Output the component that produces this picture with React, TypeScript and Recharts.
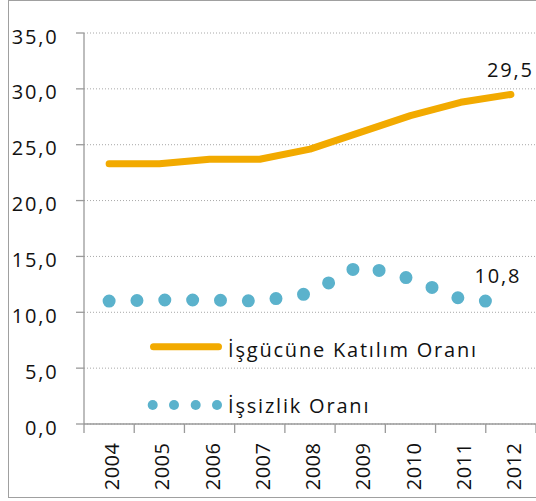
import React from 'react';
import { LineChart, Line, XAxis, YAxis, CartesianGrid, Legend, LabelList } from 'recharts';

const YEARS = ['2004', '2005', '2006', '2007', '2008', '2009', '2010', '2011', '2012'];
const PARTICIPATION = [23.3, 23.3, 23.7, 23.7, 24.6, 26.1, 27.6, 28.8, 29.5];
const UNEMPLOYMENT = [11.0, 11.1, 11.1, 11.0, 11.7, 14.2, 13.0, 11.2, 10.8];
const Y_TICKS = [0, 5, 10, 15, 20, 25, 30, 35];
const SERIES_NAMES = ['İşgücüne Katılım Oranı', 'İşsizlik Oranı'];

const data = YEARS.map((year, i) => ({
  year,
  katilim: PARTICIPATION[i],
  issizlik: UNEMPLOYMENT[i],
}));

const W = 538;
const H = 501;
const Y_AXIS_W = 84;
const X_AXIS_H = 77;
const MARGIN_TOP = 33;
const MARGIN_RIGHT = 2;
const PLOT_LEFT = Y_AXIS_W;
const PLOT_RIGHT = W - MARGIN_RIGHT;
const PLOT_BOTTOM = H - X_AXIS_H;
const BAND = (PLOT_RIGHT - PLOT_LEFT) / YEARS.length;

const ORANGE = '#F2AA00';
const BLUE = '#5BB2CC';
const AXIS = '#9a9a9a';
const TEXT = '#111';
const FONT = "'Open Sans', sans-serif";
const FS = 20;
const LS = 1.8;

const fmt = (v: number) => v.toFixed(1).replace('.', ',');

const XTick = (props: any) => {
  const { x, payload } = props;
  const idx = YEARS.indexOf(payload.value);
  return (
    <g>
      <line x1={x - BAND / 2} x2={x - BAND / 2} y1={PLOT_BOTTOM} y2={PLOT_BOTTOM + 9} stroke={AXIS} strokeWidth={1.3} />
      {idx === YEARS.length - 1 && (
        <line x1={x + BAND / 2} x2={x + BAND / 2} y1={PLOT_BOTTOM} y2={PLOT_BOTTOM + 9} stroke={AXIS} strokeWidth={1.3} />
      )}
      <text
        transform={`translate(${x + 3},${PLOT_BOTTOM + 18.5}) rotate(-90)`}
        textAnchor="end"
        dy="0.355em"
        fontFamily={FONT}
        fontSize={FS}
        letterSpacing={0.5}
        fill={TEXT}
      >
        {payload.value}
      </text>
    </g>
  );
};

const YTick = (props: any) => {
  const { y, payload } = props;
  return (
    <text x={PLOT_LEFT - 25.5} y={y + 3.5} dy="0.355em" textAnchor="end" fontFamily={FONT} fontSize={FS} letterSpacing={LS} fill={TEXT}>
      {fmt(payload.value)}
    </text>
  );
};

const endLabel = (dx: number, dy: number) => (props: any) => {
  const { x, y, value, index } = props;
  if (index !== YEARS.length - 1) return null;
  return (
    <text x={x + dx + LS / 2} y={y + dy + 7} textAnchor="middle" fontFamily={FONT} fontSize={FS} letterSpacing={LS} fill={TEXT}>
      {fmt(value)}
    </text>
  );
};

const renderLegend = (props: any) => {
  const payload = props.payload || [];
  return (
    <svg width={W} height={H} style={{ position: 'absolute', left: 0, top: 0 }}>
      {payload.map((entry: any, i: number) => {
        const dotted = entry.dataKey === 'issizlik';
        const cy = i === 0 ? 346.7 : 405;
        const baseline = i === 0 ? 357 : 413;
        return (
          <g key={String(entry.dataKey)}>
            {dotted ? (
              [152.7, 174, 195.7, 217].map((cx) => <circle key={cx} cx={cx} cy={cy} r={5} fill={entry.color} />)
            ) : (
              <line x1={153.5} x2={218.5} y1={cy} y2={cy} stroke={entry.color} strokeWidth={7} strokeLinecap="round" />
            )}
            <text x={228} y={baseline} fontFamily={FONT} fontSize={FS} letterSpacing={LS} fill={TEXT}>
              {entry.value}
            </text>
          </g>
        );
      })}
    </svg>
  );
};

export default function App() {
  return (
    <div style={{ position: 'fixed', left: 0, top: 0, width: 536, height: 501, overflow: 'hidden', background: '#fff' }}>
      <div
        style={{
          position: 'absolute',
          left: 8,
          top: 0,
          width: 600,
          height: 496,
          borderLeft: '1px solid #a0a0a0',
          borderTop: '1px solid #a0a0a0',
          borderBottom: '1px solid #a0a0a0',
        }}
      />
      <div style={{ position: 'absolute', left: 0, top: 0 }}>
        <LineChart width={W} height={H} data={data} margin={{ top: MARGIN_TOP, right: MARGIN_RIGHT, bottom: 0, left: 0 }}>
          <CartesianGrid vertical={false} strokeDasharray="1 2" stroke="#a8a8a8" />
          <XAxis
            dataKey="year"
            interval={0}
            height={X_AXIS_H}
            padding={{ left: BAND / 2, right: BAND / 2 }}
            tickLine={false}
            axisLine={{ stroke: AXIS, strokeWidth: 1.3 }}
            tick={<XTick />}
          />
          <YAxis
            domain={[0, 35]}
            ticks={Y_TICKS}
            width={Y_AXIS_W}
            tickSize={8}
            axisLine={{ stroke: AXIS, strokeWidth: 1.3 }}
            tickLine={{ stroke: AXIS, strokeWidth: 1.3 }}
            tick={<YTick />}
            interval={0}
          />
          <Legend
            layout="horizontal"
            verticalAlign="middle"
            align="center"
            wrapperStyle={{ position: 'absolute', left: 0, top: 0, width: W, height: H, margin: 0 }}
            content={renderLegend}
          />
          <Line
            type="linear"
            dataKey="katilim"
            name={SERIES_NAMES[0]}
            stroke={ORANGE}
            strokeWidth={7}
            strokeLinecap="round"
            strokeLinejoin="round"
            dot={false}
            activeDot={false}
            isAnimationActive={false}
          >
            <LabelList dataKey="katilim" content={endLabel(-1.5, -24)} />
          </Line>
          <Line
            type="linear"
            dataKey="issizlik"
            name={SERIES_NAMES[1]}
            stroke={BLUE}
            strokeWidth={13}
            strokeDasharray="0 27.85"
            strokeLinecap="round"
            dot={false}
            activeDot={false}
            isAnimationActive={false}
          >
            <LabelList dataKey="issizlik" content={endLabel(-14, -27.4)} />
          </Line>
        </LineChart>
      </div>
    </div>
  );
}
